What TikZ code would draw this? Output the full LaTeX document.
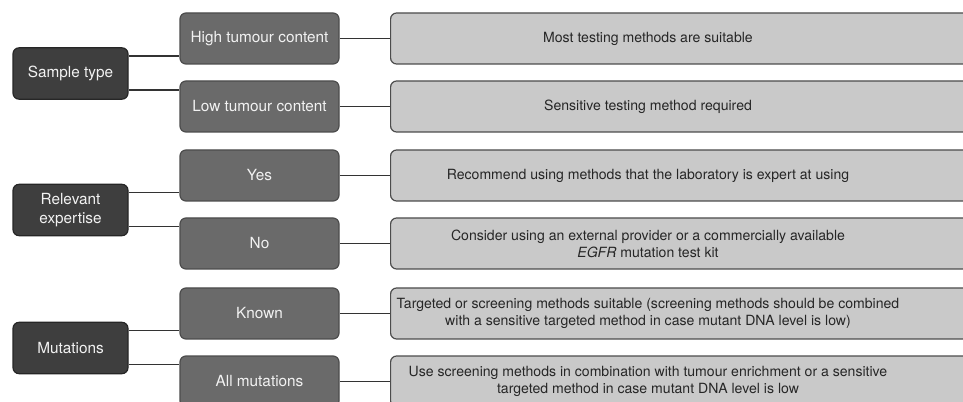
\documentclass[tikz,border=0pt]{standalone}
\usepackage{fontspec}
\setmainfont{TeX Gyre Heros}
\usetikzlibrary{calc}

\definecolor{topgray}{HTML}{3E3E3E}
\definecolor{choicegray}{HTML}{6A6A6A}
\definecolor{outgray}{HTML}{C9C9C9}
\definecolor{edgegray}{HTML}{4C4C4C}

\tikzset{
  basebox/.style={draw=edgegray, line width=0.9pt, rounded corners=4.5pt, inner sep=2pt, align=center,
    font=\fontsize{11.5}{13.8}\selectfont},
  topbox/.style={basebox, draw=black!85, fill=topgray, text=white!95!black, minimum width=86.25pt, minimum height=38.5pt},
  choicebox/.style={basebox, fill=choicegray, text=white!95!black, minimum width=119.25pt, minimum height=38.25pt},
  outbox/.style={basebox, fill=outgray, minimum width=465pt, minimum height=38.25pt, anchor=west},
  outtext/.style={align=center, text=black!85, inner sep=0pt, font=\fontsize{10.55}{12.75}\selectfont},
  link/.style={draw=black!80, line width=1.1pt},
}

\begin{document}
\begin{tikzpicture}[x=0.75pt, y=-0.75pt]
\useasboundingbox (0,0) rectangle (963,402);
\clip (0,0) rectangle (963,402);

% first column
\node[topbox] (st) at (70.5,73.5) {Sample type};
\node[topbox] (re) at (70.5,210) {Relevant\\expertise};
\node[topbox] (mu) at (70.5,348) {Mutations};

% second column
\node[choicebox] (hi) at (259.5,38.5) {High tumour content};
\node[choicebox] (lo) at (259.5,106.5) {Low tumour content};
\node[choicebox] (ye) at (259.5,175.5) {Yes};
\node[choicebox] (no) at (259.5,243.5) {No};
\node[choicebox] (kn) at (259.5,313.5) {Known};
\node[choicebox] (al) at (259.5,381.5) {All mutations};

% outcomes
\node[outbox] (ohi) at (390,38.5) {};
\node[outbox] (olo) at (390,106.5) {};
\node[outbox] (oye) at (390,175.5) {};
\node[outbox] (ono) at (390,243.5) {};
\node[outbox] (okn) at (390,313.5) {};
\node[outbox] (oal) at (390,381.5) {};

\node[outtext] (thi) at ([xshift=193.5pt]ohi.west) {Most testing methods are suitable};
\node[outtext] (tlo) at ([xshift=193.5pt]olo.west) {Sensitive testing method required};
\node[outtext] (tye) at ([xshift=193.5pt]oye.west) {Recommend using methods that the laboratory is expert at using};
\node[outtext] (tno) at ([xshift=193.5pt]ono.west) {Consider using an external provider or a commercially available\\\textit{EGFR} mutation test kit};
\node[outtext] (tkn) at ([xshift=193.5pt]okn.west) {Targeted or screening methods suitable (screening methods should be combined\\with a sensitive targeted method in case mutant DNA level is low)};
\node[outtext] (tal) at ([xshift=193.5pt]oal.west) {Use screening methods in combination with tumour enrichment or a sensitive\\targeted method in case mutant DNA level is low};

% links
\draw[link] ($(st.east)!.5!(st.east |- hi.west)$) -- ($(hi.west)!.5!(hi.west |- st.east)$);
\draw[link] ($(st.east)!.5!(st.east |- lo.west)$) -- ($(lo.west)!.5!(lo.west |- st.east)$);
\draw[link] ($(re.east)!.5!(re.east |- ye.west)$) -- ($(ye.west)!.5!(ye.west |- re.east)$);
\draw[link] ($(re.east)!.5!(re.east |- no.west)$) -- ($(no.west)!.5!(no.west |- re.east)$);
\draw[link] ($(mu.east)!.5!(mu.east |- kn.west)$) -- ($(kn.west)!.5!(kn.west |- mu.east)$);
\draw[link] ($(mu.east)!.5!(mu.east |- al.west)$) -- ($(al.west)!.5!(al.west |- mu.east)$);

\draw[link] (hi.east) -- (ohi.west);
\draw[link] (lo.east) -- (olo.west);
\draw[link] (ye.east) -- (oye.west);
\draw[link] (no.east) -- (ono.west);
\draw[link] (kn.east) -- (okn.west);
\draw[link] (al.east) -- (oal.west);
\end{tikzpicture}
\end{document}
